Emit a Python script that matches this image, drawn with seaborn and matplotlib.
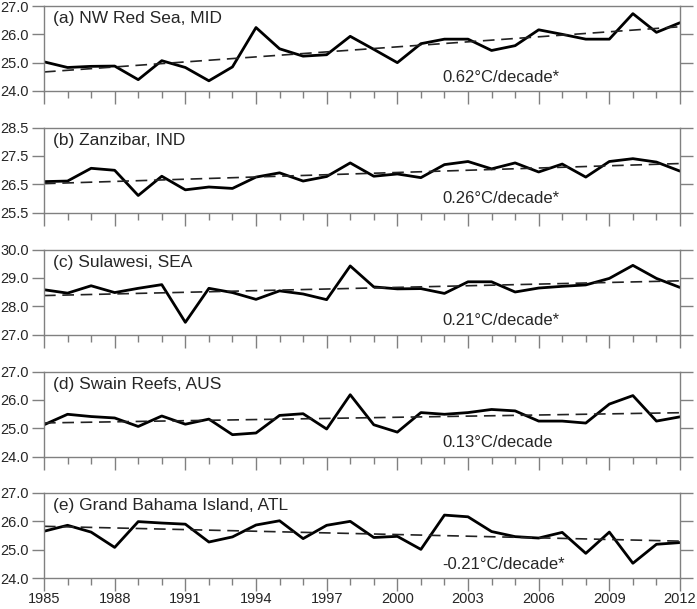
import numpy as np
import pandas as pd
import matplotlib
matplotlib.use("Agg")
import matplotlib.pyplot as plt
from matplotlib.ticker import FormatStrFormatter
import seaborn as sns

# Annual mean SST per site, 1985-2012
years = list(range(1985, 2013))

red_sea = [25.03, 24.83, 24.87, 24.88, 24.40, 25.07, 24.83, 24.36, 24.85, 26.24,
           25.49, 25.23, 25.28, 25.93, 25.47, 25.00, 25.67, 25.83, 25.83, 25.43,
           25.60, 26.16, 26.00, 25.83, 25.83, 26.73, 26.07, 26.41]
zanzibar = [26.59, 26.61, 27.06, 26.99, 26.10, 26.78, 26.30, 26.40, 26.35, 26.75,
            26.90, 26.61, 26.77, 27.25, 26.78, 26.86, 26.73, 27.19, 27.30, 27.04,
            27.25, 26.93, 27.21, 26.75, 27.30, 27.40, 27.28, 26.96]
sulawesi = [28.58, 28.46, 28.72, 28.48, 28.63, 28.76, 27.43, 28.63, 28.48, 28.24,
            28.54, 28.43, 28.23, 29.42, 28.68, 28.61, 28.62, 28.45, 28.86, 28.86,
            28.50, 28.64, 28.70, 28.75, 28.98, 29.44, 28.98, 28.66]
swain = [25.12, 25.49, 25.41, 25.36, 25.06, 25.43, 25.14, 25.32, 24.77, 24.83,
         25.45, 25.51, 24.97, 26.18, 25.12, 24.86, 25.55, 25.49, 25.55, 25.66,
         25.61, 25.25, 25.25, 25.18, 25.85, 26.15, 25.25, 25.40]
bahama = [25.65, 25.86, 25.62, 25.08, 25.99, 25.94, 25.90, 25.27, 25.45, 25.87,
          26.02, 25.39, 25.86, 26.00, 25.43, 25.47, 25.01, 26.22, 26.16, 25.64,
          25.46, 25.41, 25.61, 24.87, 25.62, 24.52, 25.19, 25.25]

series = [red_sea, zanzibar, sulawesi, swain, bahama]
panel_labels = ["(a) NW Red Sea, MID", "(b) Zanzibar, IND", "(c) Sulawesi, SEA",
                "(d) Swain Reefs, AUS", "(e) Grand Bahama Island, ATL"]
trend_labels = ["0.62°C/decade*", "0.26°C/decade*", "0.21°C/decade*",
                "0.13°C/decade", "-0.21°C/decade*"]
y_lows = [24.0, 25.5, 27.0, 24.0, 24.0]
year_ticks = years[::3]

sns.set_style("ticks")
plt.rcParams["font.family"] = ["Liberation Sans", "DejaVu Sans"]

fig = plt.figure(figsize=(6.97, 6.09), dpi=100)

W, H = 697, 609
left, width = 44 / W, 636 / W
tops = [6, 127.5, 249.5, 371.5, 493]
ph = 85

for i, vals in enumerate(series):
    ax = fig.add_axes([left, 1 - (tops[i] + ph) / H, width, ph / H])
    df = pd.DataFrame({"year": years, "sst": vals})

    sns.lineplot(data=df, x="year", y="sst", ax=ax, color="black", lw=2)
    # linear trend, dashed
    sns.regplot(data=df, x="year", y="sst", ax=ax, scatter=False, ci=None,
                line_kws=dict(color="#222222", lw=1.2, ls=(0, (7, 4))))

    lo = y_lows[i]
    ax.set_xlim(years[0], years[-1])
    ax.set_ylim(lo, lo + 3)
    ax.set_yticks([lo, lo + 1, lo + 2, lo + 3])
    ax.yaxis.set_major_formatter(FormatStrFormatter("%.1f"))
    ax.set_xticks(year_ticks)
    ax.set_xticks(years, minor=True)

    for sp in ax.spines.values():
        sp.set_color("#808080")
        sp.set_linewidth(1.0)
    ax.tick_params(axis="y", which="major", direction="out", length=9, width=1,
                   color="#808080", labelsize=10.5, pad=2, right=True)
    ax.tick_params(axis="x", which="major", direction="out", length=9, width=1,
                   color="#808080", labelsize=10.5, pad=1)
    ax.tick_params(axis="x", which="minor", direction="out", length=5, width=1,
                   color="#808080")

    if i < 4:
        ax.set_xticklabels([])
    ax.set_xlabel("")
    ax.set_ylabel("")

    ax.text(0.014, 0.85, panel_labels[i], transform=ax.transAxes,
            fontsize=12.5, va="center", ha="left")
    ax.text(0.626, 0.16, trend_labels[i], transform=ax.transAxes,
            fontsize=12, va="center", ha="left")

fig.savefig("out.png", dpi=100)
